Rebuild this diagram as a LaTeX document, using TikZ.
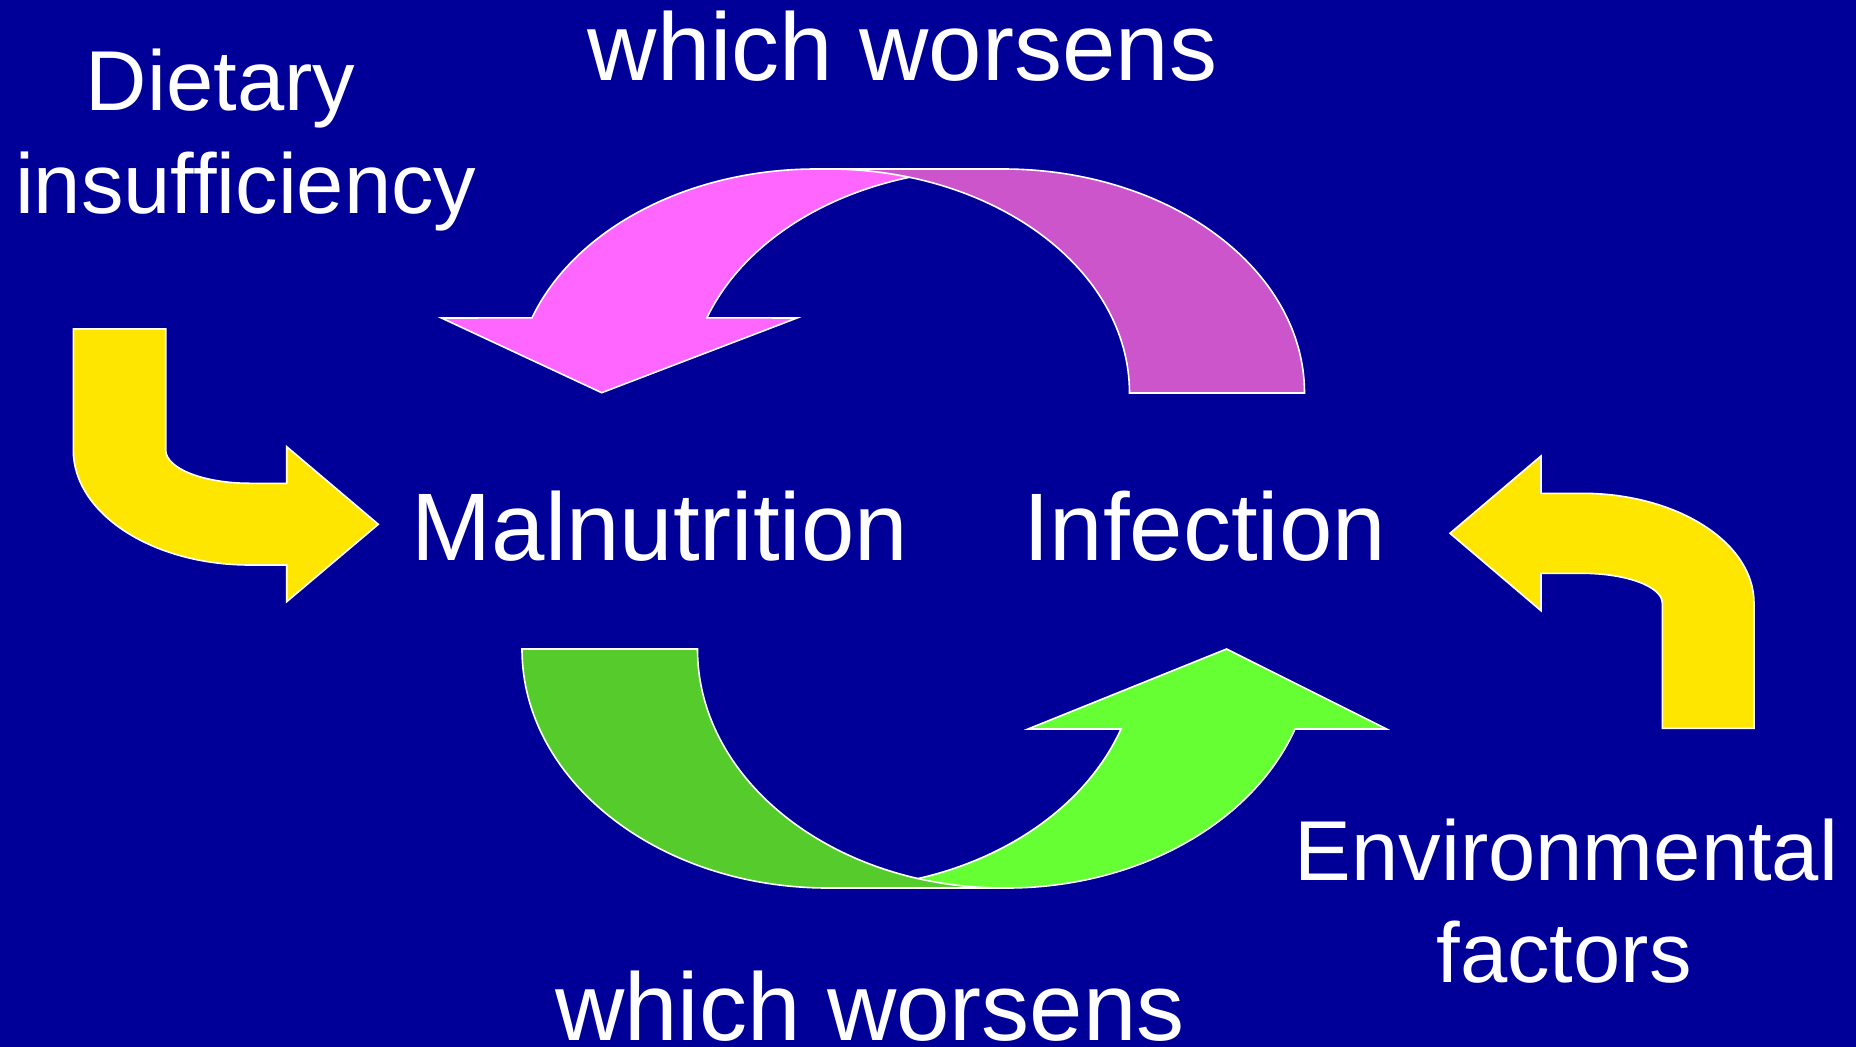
\documentclass[tikz,border=0pt]{standalone}
\usepackage{fontspec}
\setmainfont{Liberation Sans}
\definecolor{bgblue}{HTML}{000099}
\definecolor{pinkA}{HTML}{FF66FF}
\definecolor{pinkB}{HTML}{CC55CC}
\definecolor{greenA}{HTML}{66FF33}
\definecolor{greenB}{HTML}{55CC2B}
\definecolor{yel}{HTML}{FFE600}
\tikzset{
  shp/.style={draw=white, line width=1.6pt, line join=miter},
  bigtxt/.style={text=white, inner sep=0pt, anchor=base, font=\fontsize{96}{110}\selectfont},
  smalltxt/.style={text=white, inner sep=0pt, anchor=base, font=\fontsize{85}{100}\selectfont},
}
\begin{document}
\begin{tikzpicture}[x=1pt,y=-1pt]
\fill[bgblue] (0,0) rectangle (1856,1047);
\useasboundingbox (0,0) rectangle (1856,1047);

% left yellow arrow
\path[shp, fill=yel] (73.3,329) -- (165.7,329) -- (165.7,450)
  arc[start angle=180, end angle=90, x radius=84.3, y radius=33.3]
  -- (286.7,483.3) -- (286.7,446.7) -- (378.3,524.3) -- (286.7,601.7) -- (286.7,565) -- (250,565)
  arc[start angle=90, end angle=180, x radius=176.7, y radius=115]
  -- cycle;

% right yellow arrow
\path[shp, fill=yel] (1450,533.3) -- (1541,456) -- (1541,493.3) -- (1582,493.3)
  arc[start angle=270, end angle=360, x radius=172, y radius=109.7]
  -- (1754,728.3) -- (1662.3,728.3) -- (1662.3,603)
  arc[start angle=0, end angle=-90, x radius=80.3, y radius=29.7]
  -- (1541,573.3) -- (1541,610.7) -- cycle;

% top curved arrow: front (pink)
\path[shp, fill=pinkA] (816,169)
  arc[start angle=270, end angle=199.6, x radius=301.5, y radius=224]
  -- (441.5,318) -- (601.7,392.7) -- (797,318) -- (706.9,317.8)
  arc[start angle=199.6, end angle=270, x radius=301.5, y radius=224]
  -- cycle;
% top curved arrow: ribbon (darker)
\path[shp, fill=pinkB] (828,169) -- (1003,169)
  arc[start angle=270, end angle=360, x radius=301.5, y radius=224]
  -- (1129.5,393)
  arc[start angle=0, end angle=-90, x radius=301.5, y radius=224]
  -- cycle;

% bottom curved arrow: front (light green)
\path[shp, fill=greenA] (832.7,888) -- (1006.7,888)
  arc[start angle=90, end angle=19.55, x radius=306, y radius=239]
  -- (1386.7,729) -- (1226.5,649) -- (1028,729) -- (1121,729)
  arc[start angle=19.55, end angle=90, x radius=306, y radius=239]
  -- cycle;
% bottom curved arrow: ribbon (darker green)
\path[shp, fill=greenB] (522,649)
  arc[start angle=180, end angle=90, x radius=306, y radius=239]
  -- (1003.5,888)
  arc[start angle=90, end angle=180, x radius=306, y radius=239]
  -- cycle;

% texts
\node[bigtxt] (topw) at (902.5,80) {which worsens};
\node[bigtxt] (botw) at (870,1040.7) {which worsens};
\node[bigtxt] (maln) at (660,560.7) {Malnutrition};
\node[bigtxt] (infe) at (1204.5,560.7) {Infection};
\node[smalltxt] (diet) at (220.5,110) {Dietary};
\node[smalltxt] (insu) at (245.8,213.3) {insufficiency};
\node[smalltxt] (envi) at (1566.5,880) {Environmental};
\node[smalltxt] (fact) at (1564,982.7) {factors};
\end{tikzpicture}
\end{document}
